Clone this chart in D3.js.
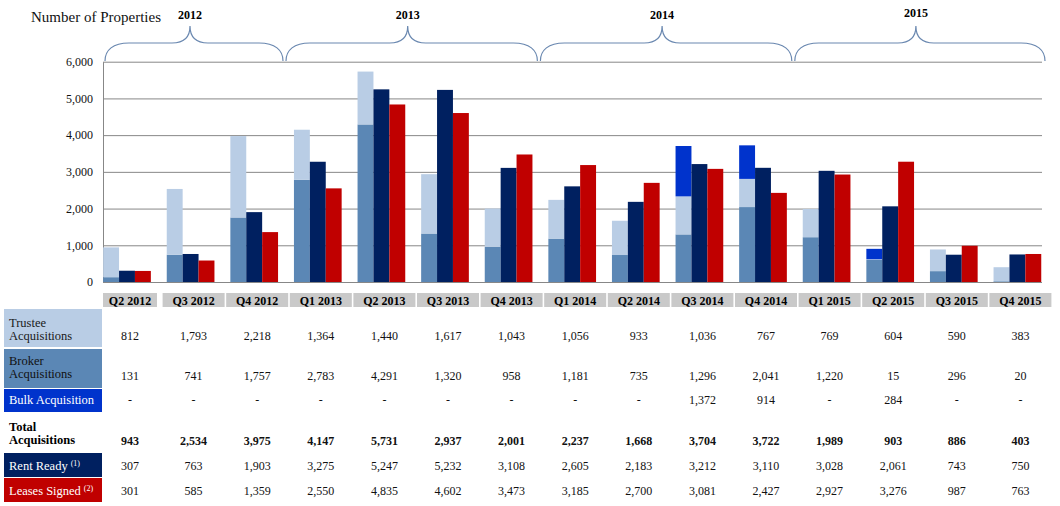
<!DOCTYPE html>
<html>
<head>
<meta charset="utf-8">
<script src="https://cdn.jsdelivr.net/npm/d3@7"></script>
<style>
	body { margin: 0; background: #fff; }
	svg { display: block; }
	svg text { font-family: "Liberation Serif", "Times New Roman", serif; }
</style>
</head>
<body>
<div id="chart"></div>
<script>
const quarters = ['Q2 2012', 'Q3 2012', 'Q4 2012', 'Q1 2013', 'Q2 2013', 'Q3 2013', 'Q4 2013',
	'Q1 2014', 'Q2 2014', 'Q3 2014', 'Q4 2014', 'Q1 2015', 'Q2 2015', 'Q3 2015', 'Q4 2015'];
const years = ['2012', '2013', '2014', '2015'];
const yearSpans = [['Q2 2012', 'Q4 2012'], ['Q1 2013', 'Q4 2013'], ['Q1 2014', 'Q4 2014'], ['Q1 2015', 'Q4 2015']];

// table values
const trustee = [812, 1793, 2218, 1364, 1440, 1617, 1043, 1056, 933, 1036, 767, 769, 604, 590, 383];
const broker = [131, 741, 1757, 2783, 4291, 1320, 958, 1181, 735, 1296, 2041, 1220, 15, 296, 20];
const bulk = [0, 0, 0, 0, 0, 0, 0, 0, 0, 1372, 914, 0, 284, 0, 0];
const totalAcq = [943, 2534, 3975, 4147, 5731, 2937, 2001, 2237, 1668, 3704, 3722, 1989, 903, 886, 403];
const rentReady = [307, 763, 1903, 3275, 5247, 5232, 3108, 2605, 2183, 3212, 3110, 3028, 2061, 743, 750];
const leasesSigned = [301, 585, 1359, 2550, 4835, 4602, 3473, 3185, 2700, 3081, 2427, 2927, 3276, 987, 763];

// stacked segments as drawn in the picture (Q2 2015 is drawn broker-first)
const brokerBars = [131, 741, 1757, 2783, 4291, 1320, 958, 1181, 735, 1296, 2041, 1220, 604, 296, 20];
const trusteeBars = [812, 1793, 2218, 1364, 1440, 1617, 1043, 1056, 933, 1036, 767, 769, 15, 590, 383];

const yTicks = [0, 1000, 2000, 3000, 4000, 5000, 6000];

const C = {
	trustee: '#b9cde5',
	broker: '#5b87b5',
	bulk: '#0033cc',
	ready: '#002060',
	leases: '#c00000',
	grid: '#878787',
	brace: '#6a88b0',
	head: '#c9c9c9'
};
const serif = '"Liberation Serif", "Times New Roman", serif';

const W = 1060, H = 506;
const svg = d3.select('#chart').append('svg')
	.attr('width', W)
	.attr('height', H)
	.style('font-family', serif);

const x = d3.scaleBand()
	.domain(quarters)
	.range([95.2, 1049.2])
	.paddingInner(0.25)
	.paddingOuter(0.125);
const sub = d3.scaleBand()
	.domain(['acq', 'ready', 'leases'])
	.range([0, x.bandwidth()]);
const y = d3.scaleLinear()
	.domain([0, 6000])
	.range([282, 61.7]);

const plotLeft = 103, plotRight = 1042;

// gridlines + vertical axis line
const grid = svg.append('g')
	.attr('transform', `translate(${plotLeft},0)`)
	.call(d3.axisLeft(y).tickValues(yTicks).tickSize(-(plotRight - plotLeft)).tickSizeOuter(0).tickFormat(''));
grid.selectAll('line').style('stroke', C.grid);
grid.select('.domain').style('stroke', C.grid);

// y labels
const yAxisG = svg.append('g')
	.attr('transform', `translate(${plotLeft},0)`)
	.call(d3.axisLeft(y).tickValues(yTicks).tickSize(0).tickPadding(10).tickFormat(d3.format(',')));
yAxisG.attr('font-family', serif);
yAxisG.select('.domain').remove();
yAxisG.selectAll('text')
	.style('font-family', serif)
	.style('font-size', '12px')
	.attr('fill', '#111');

// bars
const groups = svg.append('g').selectAll('g')
	.data(quarters)
	.join('g')
	.attr('transform', d => `translate(${x(d)},0)`);

groups.each(function(q, i) {
	const g = d3.select(this);
	const segs = [
		{ v0: 0, v1: brokerBars[i], c: C.broker },
		{ v0: brokerBars[i], v1: brokerBars[i] + trusteeBars[i], c: C.trustee },
		{ v0: brokerBars[i] + trusteeBars[i], v1: brokerBars[i] + trusteeBars[i] + bulk[i], c: C.bulk }
	];
	segs.filter(s => s.v1 > s.v0).forEach(s => {
		g.append('rect')
			.attr('x', sub('acq'))
			.attr('width', sub.bandwidth())
			.attr('y', y(s.v1))
			.attr('height', y(s.v0) - y(s.v1))
			.attr('fill', s.c);
	});
	g.append('rect')
		.attr('x', sub('ready'))
		.attr('width', sub.bandwidth())
		.attr('y', y(rentReady[i]))
		.attr('height', y(0) - y(rentReady[i]))
		.attr('fill', C.ready);
	g.append('rect')
		.attr('x', sub('leases'))
		.attr('width', sub.bandwidth())
		.attr('y', y(leasesSigned[i]))
		.attr('height', y(0) - y(leasesSigned[i]))
		.attr('fill', C.leases);
});

// title
svg.append('text')
	.attr('x', 31)
	.attr('y', 22)
	.style('font-family', serif)
	.style('font-size', '15px')
	.attr('fill', '#111')
	.text('Number of Properties');

// year braces
const step = x.step();
const braceTop = 43, braceBase = 61, peakY = 26;
yearSpans.forEach((span, i) => {
	let x0 = x(span[0]) - step * 0.125;
	let x1 = x(span[1]) + x.bandwidth() + step * 0.125 - 3;
	if (i === 0) x0 = plotLeft + 2;
	if (i === yearSpans.length - 1) x1 = plotRight + 3;
	const pk = (x0 + x1) / 2 - 4;
	const p = d3.path();
	p.moveTo(x0, braceBase);
	p.bezierCurveTo(x0, 50, x0 + 8, braceTop, x0 + 24, braceTop);
	p.lineTo(pk - 18, braceTop);
	p.bezierCurveTo(pk - 6, braceTop, pk, 38, pk, peakY);
	p.bezierCurveTo(pk, 38, pk + 6, braceTop, pk + 18, braceTop);
	p.lineTo(x1 - 24, braceTop);
	p.bezierCurveTo(x1 - 8, braceTop, x1, 50, x1, braceBase);
	svg.append('path')
		.attr('d', p.toString())
		.attr('fill', 'none')
		.attr('stroke', C.brace)
		.attr('stroke-width', 1.2);
	svg.append('text')
		.attr('x', pk)
		.attr('y', i === 3 ? 17 : 19)
		.attr('text-anchor', 'middle')
		.style('font-family', serif)
		.style('font-size', '12px')
		.style('font-weight', 'bold')
		.text(years[i]);
});

// table
const colX = q => x(q) + x.bandwidth() / 2 + 3;
const fmt = d3.format(',');

const head = svg.append('g').selectAll('g')
	.data(quarters)
	.join('g');
head.append('rect')
	.attr('x', (d, i) => i === 0 ? plotLeft : colX(d) - 31)
	.attr('width', (d, i) => i === 0 ? colX(d) + 27 - plotLeft : 62)
	.attr('y', 293)
	.attr('height', 14)
	.attr('fill', C.head);
head.append('text')
	.attr('x', (d, i) => i === 0 ? (plotLeft + colX(d) + 27) / 2 : colX(d))
	.attr('y', 305)
	.attr('text-anchor', 'middle')
	.style('font-family', serif)
	.style('font-size', '12px')
	.style('font-weight', 'bold')
	.text(d => d);

const rows = [
	{ lines: ['Trustee', 'Acquisitions'], vals: trustee, y0: 309, y1: 347, bg: C.trustee, fg: '#1a1a1a', lineY: [327, 340], valY: 340 },
	{ lines: ['Broker', 'Acquisitions'], vals: broker, y0: 349, y1: 388, bg: C.broker, fg: '#111', lineY: [365, 378], valY: 380 },
	{ lines: ['Bulk Acquisition'], vals: bulk, y0: 389, y1: 412, bg: C.bulk, fg: '#fff', lineY: [404], valY: 404 },
	{ lines: ['Total', 'Acquisitions'], vals: totalAcq, bg: null, fg: '#000', lineY: [431, 444], valY: 445, bold: true },
	{ lines: ['Rent Ready'], sup: '(1)', vals: rentReady, y0: 453, y1: 477, bg: C.ready, fg: '#fff', lineY: [470], valY: 470 },
	{ lines: ['Leases Signed'], sup: '(2)', vals: leasesSigned, y0: 478, y1: 502, bg: C.leases, fg: '#fff', lineY: [495], valY: 495 }
];

rows.forEach(r => {
	const g = svg.append('g');
	if (r.bg) {
		g.append('rect')
			.attr('x', 4)
			.attr('y', r.y0)
			.attr('width', 98)
			.attr('height', r.y1 - r.y0)
			.attr('fill', r.bg);
	}
	r.lines.forEach((l, j) => {
		const t = g.append('text')
			.attr('x', 9)
			.attr('y', r.lineY[j])
			.attr('fill', r.fg)
			.style('font-family', serif)
			.style('font-size', '12.5px')
			.style('font-weight', r.bold ? 'bold' : 'normal')
			.text(l);
		if (r.sup && j === r.lines.length - 1) {
			t.append('tspan')
				.attr('dx', 3)
				.attr('dy', -4)
				.style('font-size', '8px')
				.text(r.sup);
		}
	});
	g.selectAll('.val')
		.data(quarters)
		.join('text')
		.attr('class', 'val')
		.attr('x', d => colX(d))
		.attr('y', r.valY)
		.attr('text-anchor', 'middle')
		.attr('fill', '#111')
		.style('font-family', serif)
		.style('font-size', '12px')
		.style('font-weight', r.bold ? 'bold' : 'normal')
		.text((d, i) => r.vals[i] === 0 ? '-' : fmt(r.vals[i]));
});
</script>
</body>
</html>
